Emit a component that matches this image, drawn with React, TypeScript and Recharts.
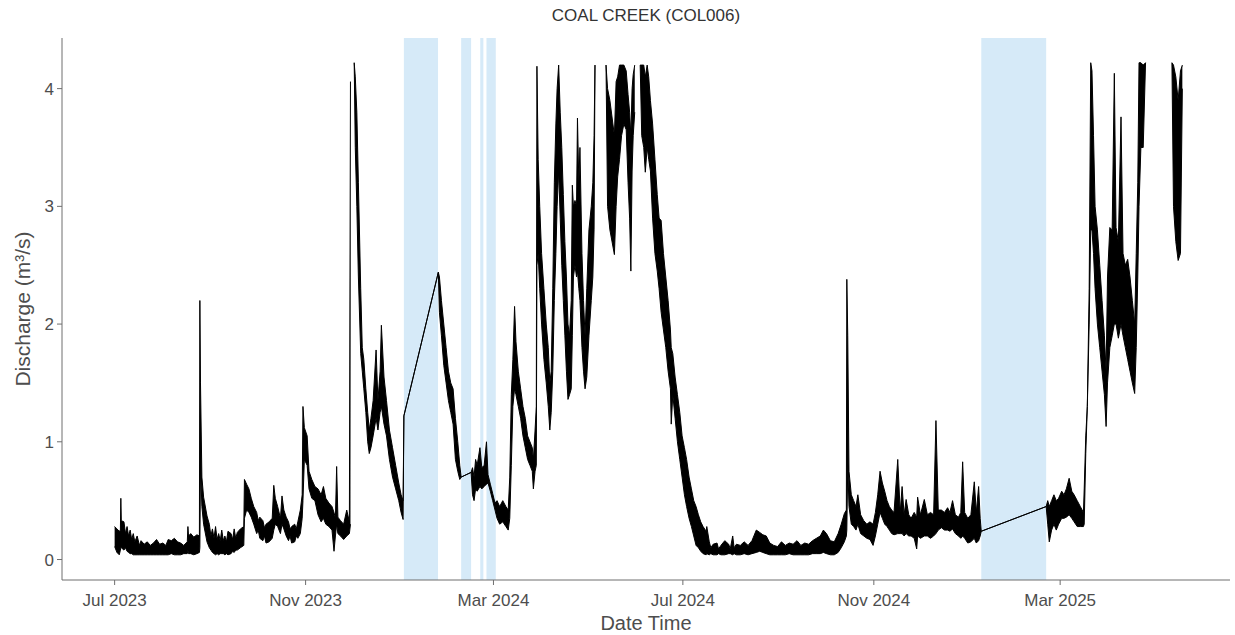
import { ComposedChart, Area, XAxis, YAxis, ReferenceArea } from 'recharts';

// [day since 1 Jul 2023, min, max] of discharge (m³/s) over each step;
// null marks values dropped above the rating limit
type Reading = [number, number | null, number | null];

const summer2023: Reading[] = [
  [0, 0.11, 0.28], [1.5, 0.06, 0.26], [3, 0.04, 0.24], [3.7, 0.08, 0.25], [4, 0.1, 0.52], [4.3, 0.1, 0.33],
  [6, 0.08, 0.32], [7, 0.1, 0.22], [8, 0.07, 0.28], [9, 0.06, 0.2], [10, 0.05, 0.25], [11, 0.05, 0.17],
  [12, 0.04, 0.22], [13, 0.04, 0.15], [14.5, 0.04, 0.2], [16, 0.04, 0.12], [17, 0.04, 0.16],
  [19, 0.04, 0.13], [21, 0.04, 0.15], [23, 0.04, 0.12], [25, 0.04, 0.14], [27, 0.04, 0.17], [29, 0.04, 0.13],
  [31, 0.04, 0.14], [33, 0.04, 0.12], [34.5, 0.04, 0.17], [36.5, 0.05, 0.16], [38.5, 0.04, 0.18], [40.5, 0.04, 0.15],
  [42.5, 0.04, 0.14], [44.5, 0.05, 0.12], [46.8, 0.05, 0.15], [47.2, 0.08, 0.28], [47.6, 0.05, 0.2], [49, 0.05, 0.22],
  [51, 0.04, 0.19], [53, 0.05, 0.21], [54.6, 0.06, 0.2],
];

const autumn2023: Reading[] = [
  [54.9, 0.1, 2.2], [55.3, 0.8, 1.5], [56.2, 0.45, 0.7], [57.3, 0.3, 0.53], [59.5, 0.15, 0.37], [61, 0.1, 0.3],
  [62, 0.08, 0.2], [63, 0.06, 0.26], [64, 0.05, 0.18], [65, 0.04, 0.28], [66, 0.05, 0.17], [67, 0.04, 0.22],
  [68, 0.05, 0.16], [69, 0.05, 0.25], [70, 0.05, 0.16], [71, 0.04, 0.2], [72, 0.05, 0.15], [73, 0.04, 0.24],
  [75, 0.05, 0.22], [76, 0.07, 0.17], [77, 0.06, 0.26], [78, 0.08, 0.18], [79, 0.08, 0.23], [81, 0.1, 0.26],
  [83.2, 0.12, 0.28], [83.6, 0.35, 0.68],
  [85, 0.42, 0.64], [86.5, 0.4, 0.6], [88, 0.36, 0.52], [89.6, 0.3, 0.45], [91.5, 0.22, 0.4], [92.5, 0.25, 0.33],
  [93.5, 0.18, 0.36], [95.5, 0.16, 0.33], [96.5, 0.2, 0.27], [97.5, 0.14, 0.3], [99.5, 0.15, 0.32], [101.5, 0.18, 0.35],
  [102.5, 0.25, 0.63], [103.5, 0.3, 0.52],
  [105, 0.28, 0.45], [106.8, 0.22, 0.35], [107.8, 0.3, 0.54], [109, 0.26, 0.42], [110.5, 0.2, 0.36], [112, 0.16, 0.32],
  [113, 0.2, 0.26], [114, 0.14, 0.28], [116, 0.15, 0.3], [117, 0.2, 0.26], [118, 0.18, 0.32], [119.6, 0.22, 0.42],
  [120.8, 0.35, 0.55], [121.3, 0.5, 1.3],
  [122.2, 0.85, 1.12], [124, 0.8, 1.05], [125.2, 0.6, 0.75], [127, 0.52, 0.68], [129, 0.5, 0.62], [131, 0.38, 0.6],
  [133, 0.32, 0.55], [134.5, 0.35, 0.62], [136, 0.3, 0.52], [138, 0.28, 0.48], [140, 0.25, 0.45], [141.3, 0.07, 0.4],
  [142.2, 0.2, 0.35], [143, 0.3, 0.79], [143.8, 0.22, 0.36], [145.5, 0.2, 0.33], [147.5, 0.17, 0.3], [149.5, 0.2, 0.42],
  [151.2, 0.22, 0.32], [151.9, 0.3, 4.06],
];

const winter2024: Reading[] = [
  [153, null, null],
  [154.3, 4.22, 4.22], [155, 3.5, 4.1], [156, 3.0, 3.8], [157, 2.4, 3.2], [158.5, 1.75, 2.3], [159.5, 1.6, 1.8],
  [160.5, 1.45, 1.7], [161.8, 1.25, 1.45], [163, 1.0, 1.25], [164, 0.9, 1.1], [165.1, 0.95, 1.2], [166.5, 1.05, 1.35],
  [168.4, 1.2, 1.78], [169.6, 1.1, 1.35], [171, 1.25, 1.6], [171.8, 1.3, 1.99], [173.5, 1.15, 1.55], [175.1, 1.05, 1.35],
  [177, 0.85, 1.1], [179, 0.7, 0.95], [181, 0.6, 0.8], [183, 0.5, 0.65], [184.5, 0.4, 0.55], [185.8, 0.34, 0.5],
  [186.3, 1.22, 1.22], [208.5, 2.44, 2.44], [209.2, 2.1, 2.4], [210.5, 1.9, 2.2], [212, 1.65, 2.0], [213.5, 1.5, 1.8],
  [215, 1.35, 1.6], [216.5, 1.25, 1.5], [218, 1.15, 1.45], [219.5, 0.85, 1.2], [221, 0.75, 1.0], [222.3, 0.68, 0.8],
  [223.2, 0.7, 0.7], [229.6, 0.74, 0.74], [230.5, 0.55, 0.78], [231.5, 0.5, 0.7], [232.5, 0.6, 0.85], [233.5, 0.58, 0.8],
  [235.3, 0.62, 0.95], [236.5, 0.6, 0.78], [238, 0.62, 0.8], [239.5, 0.64, 1.0], [240.5, 0.65, 0.72], [242, 0.58, 0.64],
  [243.5, 0.5, 0.56], [245, 0.42, 0.48],
];

const spring2024: Reading[] = [
  [246.3, 0.35, 0.5], [248, 0.3, 0.45], [250, 0.32, 0.5], [252, 0.28, 0.45], [253.5, 0.25, 0.42], [254.5, 0.35, 0.7],
  [255.5, 0.8, 1.4], [256.5, 1.3, 1.7], [257.6, 1.45, 2.15], [258.5, 1.4, 1.85], [260, 1.3, 1.6], [261.5, 1.2, 1.45],
  [263, 1.05, 1.3], [264.5, 0.95, 1.2], [266, 0.85, 1.05], [267.5, 0.8, 1.0], [269, 0.75, 0.95], [269.7, 0.6, 0.85],
  [270.8, 0.75, 1.1], [271.6, 0.8, 1.3], [272, 2.5, 4.19], [272.8, 2.6, 3.4], [273.8, 2.3, 3.0], [275, 2.0, 2.6],
  [276.5, 1.7, 2.3], [278, 1.5, 2.0], [279.3, 1.3, 1.8], [280.3, 1.1, 1.5], [281.2, 1.25, 1.6], [282.2, 1.6, 2.3],
  [283.2, 2.2, 3.2], [284.2, 2.6, 3.7], [285, 3.0, 4.0], [286, 3.3, 4.2], [287, 2.9, 3.8], [288, 2.5, 3.5],
  [289, 2.2, 3.1], [290, 1.9, 2.7], [291, 1.6, 2.4], [292, 1.36, 2.0], [293, 1.4, 1.9], [294.1, 1.45, 2.2],
  [294.8, 1.9, 3.18], [295.5, 2.4, 3.0], [296.5, 2.5, 3.05], [297.5, 2.4, 3.0], [298.1, 2.45, 3.75], [299, 2.3, 3.2],
  [299.7, 2.2, 3.5], [301, 1.8, 2.6], [302, 1.6, 2.2], [303, 1.45, 1.9], [304.1, 1.55, 2.3], [305.5, 1.9, 2.8],
  [307, 2.2, 3.0], [308, 2.4, 3.2], [308.8, 2.8, 3.6], [309.4, 4.2, 4.2], [311, null, null],
  [316.5, 4.2, 4.2], [317.5, 3.0, 4.0], [319, 2.8, 3.9], [321.9, 2.59, 3.6], [323, 3.0, 4.06], [324, 3.25, 4.1],
  [325.2, 3.4, 4.2], [326.5, 3.6, 4.2], [328, 3.7, 4.2], [329.5, 3.65, 4.15], [330.7, 3.2, 3.95], [331.7, 2.9, 3.8],
  [332.5, 2.45, 3.6], [333.3, 3.3, 4.0], [334, 3.6, 4.12], [335, 3.8, 4.2], [336.3, null, null],
  [338.5, 4.2, 4.2], [339.5, 3.6, 4.2], [340.8, 3.5, 4.2], [341.8, 3.29, 4.1], [343, 3.5, 4.2], [344, 3.4, 4.1],
  [345.1, 3.3, 3.9], [346.5, 2.9, 3.7], [348, 2.6, 3.4], [349.5, 2.45, 3.1], [350.7, 2.3, 2.9], [352, 2.1, 2.88],
  [353.5, 1.95, 2.6], [355, 1.8, 2.4], [356.5, 1.6, 2.2], [358, 1.45, 1.95], [358.5, 1.15, 1.8], [359.5, 1.4, 1.75],
  [361, 1.2, 1.55], [362.5, 1.0, 1.4], [364, 0.85, 1.25], [365.5, 0.7, 1.05], [367, 0.55, 0.95], [368.4, 0.45, 0.85],
  [370, 0.35, 0.7], [371.5, 0.28, 0.6], [373, 0.2, 0.5], [374.5, 0.12, 0.45], [376, 0.1, 0.38], [377.5, 0.07, 0.32],
  [379, 0.05, 0.28], [381, 0.04, 0.24], [381.4, 0.05, 0.28],
];

const lowflow2024: Reading[] = [
  [383, 0.04, 0.15], [384, 0.05, 0.1], [385.5, 0.04, 0.13], [388, 0.04, 0.14], [389, 0.05, 0.09], [390.5, 0.04, 0.12],
  [393, 0.04, 0.16], [395.5, 0.05, 0.13], [396.5, 0.05, 0.09], [398.1, 0.04, 0.2], [399, 0.05, 0.1], [400.5, 0.04, 0.13],
  [403, 0.04, 0.12], [405.5, 0.05, 0.15], [408, 0.04, 0.12], [410.5, 0.05, 0.16],
  [413.3, 0.06, 0.25], [415.5, 0.07, 0.23], [417.5, 0.06, 0.21], [419.7, 0.05, 0.2], [422, 0.04, 0.14], [424.5, 0.04, 0.12],
  [427, 0.04, 0.11], [429.5, 0.04, 0.15], [432, 0.04, 0.12], [434.5, 0.05, 0.14], [437, 0.04, 0.13], [439.5, 0.04, 0.16],
  [442, 0.04, 0.12], [444.5, 0.04, 0.14], [447, 0.04, 0.13], [449.5, 0.05, 0.16], [452, 0.05, 0.18], [454.5, 0.05, 0.2],
  [456.5, 0.06, 0.25], [458.5, 0.05, 0.22], [461, 0.04, 0.16], [463.5, 0.04, 0.15], [466, 0.06, 0.22], [468, 0.1, 0.3],
  [470, 0.15, 0.39], [471.3, 0.2, 0.42],
];

const winter2025: Reading[] = [
  [471.6, 0.25, 2.38], [472.2, 0.8, 1.9], [473, 0.45, 0.75], [474.5, 0.3, 0.55], [476, 0.28, 0.5], [477.5, 0.25, 0.45],
  [478.7, 0.3, 0.55], [480.5, 0.22, 0.38], [482.5, 0.2, 0.33], [484.5, 0.18, 0.3], [486.5, 0.17, 0.32], [488.5, 0.12, 0.3],
  [490, 0.2, 0.4], [491.5, 0.3, 0.55], [493, 0.4, 0.75], [494.5, 0.35, 0.65], [496, 0.3, 0.58], [497.5, 0.28, 0.5],
  [499, 0.25, 0.45], [500.5, 0.22, 0.42], [502, 0.21, 0.4], [504.4, 0.22, 0.85], [506, 0.22, 0.4], [507.2, 0.22, 0.62],
  [508.5, 0.2, 0.38], [509.8, 0.22, 0.51], [511.5, 0.2, 0.38], [513, 0.2, 0.35], [515, 0.18, 0.4], [516.6, 0.09, 0.36],
  [517.2, 0.2, 0.53], [519, 0.18, 0.38], [521.5, 0.2, 0.51], [523.5, 0.2, 0.38], [525.5, 0.18, 0.4], [527.5, 0.2, 0.38],
  [529, 0.22, 1.18], [530.5, 0.25, 0.42], [532.5, 0.27, 0.42], [534.5, 0.25, 0.4], [536.5, 0.25, 0.44], [538, 0.24, 0.4],
  [539.7, 0.26, 0.5], [541.5, 0.22, 0.38], [543.5, 0.2, 0.36], [545, 0.18, 0.4], [546.2, 0.2, 0.83], [547.5, 0.18, 0.4],
  [549.5, 0.14, 0.35], [551.5, 0.15, 0.38], [553.7, 0.18, 0.66], [555, 0.14, 0.4], [556.5, 0.16, 0.62], [557.5, 0.2, 0.35],
  [558.2, 0.24, 0.24], [600, 0.45, 0.45], [601, 0.3, 0.5], [602, 0.15, 0.45], [603.5, 0.25, 0.5], [605, 0.3, 0.55],
  [606.5, 0.25, 0.5], [608, 0.3, 0.52], [610, 0.35, 0.58], [611.5, 0.35, 0.55], [613, 0.36, 0.6], [614.8, 0.38, 0.69],
  [616.5, 0.35, 0.58], [618, 0.32, 0.55], [620, 0.28, 0.5], [622, 0.28, 0.45], [624, 0.28, 0.4],
];

const spring2025: Reading[] = [
  [624.5, 0.3, 0.6], [625.5, 0.9, 1.05], [626.5, 1.3, 1.3], [627.7, 2.0, 2.3], [628.7, 2.8, 4.22], [629.5, 2.8, 4.15],
  [630.5, 2.6, 3.6], [631.5, 2.3, 3.0], [633, 2.0, 2.8], [634.5, 1.8, 2.5], [636, 1.6, 2.2], [637.5, 1.4, 1.9],
  [638.6, 1.13, 1.6], [639.5, 1.5, 2.4], [641, 1.8, 2.82], [642.5, 1.9, 2.8], [643.9, 2.0, 4.13], [645, 2.0, 2.82],
  [646.5, 1.88, 2.7], [648.2, 2.0, 3.76], [649.5, 1.9, 2.6], [651, 1.8, 2.5], [652.5, 1.7, 2.55], [654, 1.6, 2.4],
  [655.5, 1.5, 2.2], [657, 1.41, 2.0], [658, 1.8, 2.6], [659, 2.4, 3.2], [659.8, 3.0, 4.22], [661, 3.5, 4.22],
  [662.5, 3.5, 4.2], [664, 4.22, 4.22], [670, null, null],
  [681, 4.22, 4.22], [682, 3.0, 4.2], [683.5, 2.7, 4.1], [685, 2.54, 3.9], [686.5, 2.6, 4.15], [687.7, 4.0, 4.2],
];

const tickDays = [0, 123, 244, 366, 489, 609];
const tickLabels = ['Jul 2023', 'Nov 2023', 'Mar 2024', 'Jul 2024', 'Nov 2024', 'Mar 2025'];
const dischargeTicks = [0, 1, 2, 3, 4];

// stretches without logger record, shaded light blue
const missingStart = [186.3, 223.2, 235.5, 239.5, 558.2];
const missingEnd = [208.3, 229.6, 237.5, 245.5, 600];

const readings = [...summer2023, ...autumn2023, ...winter2024, ...spring2024, ...lowflow2024, ...winter2025, ...spring2025];
const data = readings.map(([day, lo, hi]) => ({
  day,
  range: lo == null || hi == null ? null : [lo, hi],
}));

const FONT = '"Liberation Sans", Arial, Helvetica, sans-serif';
const TEXT = '#4d4d4d';
const AXIS = '#6e6e6e';

const W = 1235;
const H = 635;
const PLOT_LEFT = 62;
const PLOT_RIGHT = 1230;
const PLOT_TOP = 38;
const PLOT_BOTTOM = 580;

function xTitle() {
  return (
    <text x={(PLOT_LEFT + PLOT_RIGHT) / 2} y={630} textAnchor="middle" fill={TEXT} fontSize={20} fontFamily={FONT}>
      Date Time
    </text>
  );
}

function yTitle() {
  const cx = 22;
  const cy = (PLOT_TOP + PLOT_BOTTOM) / 2;
  return (
    <text x={cx} y={cy} transform={`rotate(-90 ${cx} ${cy})`} textAnchor="middle" dominantBaseline="central" fill={TEXT} fontSize={21} fontFamily={FONT}>
      Discharge (m³/s)
    </text>
  );
}

export default function App() {
  return (
    <div style={{ position: 'absolute', left: 0, top: 0, width: W, height: H, background: '#fff', fontFamily: FONT }}>
      <div style={{ position: 'absolute', top: 6, left: PLOT_LEFT, width: PLOT_RIGHT - PLOT_LEFT, textAlign: 'center', fontSize: 17, color: '#333', lineHeight: '20px' }}>
        COAL CREEK (COL006)
      </div>
      <ComposedChart
        width={W}
        height={H}
        data={data}
        margin={{ top: PLOT_TOP, right: W - PLOT_RIGHT, bottom: 0, left: 0 }}
      >
        {missingStart.map((start, i) => (
          <ReferenceArea key={i} x1={start} x2={missingEnd[i]} fill="#d6eaf8" fillOpacity={1} stroke="none" zIndex={-50} />
        ))}
        <XAxis
          type="number"
          dataKey="day"
          domain={[-33.9, 718.4]}
          allowDataOverflow
          ticks={tickDays}
          tickFormatter={(d: number) => tickLabels[tickDays.indexOf(d)]}
          height={H - PLOT_BOTTOM}
          tickSize={5}
          tickMargin={9}
          stroke={AXIS}
          tick={{ fill: TEXT, fontSize: 17 }}
          label={xTitle}
        />
        <YAxis
          type="number"
          domain={[-0.174, 4.43]}
          allowDataOverflow
          ticks={dischargeTicks}
          width={PLOT_LEFT}
          tickSize={5}
          tickMargin={3}
          stroke={AXIS}
          tick={{ fill: TEXT, fontSize: 17 }}
          label={yTitle}
        />
        <Area
          dataKey="range"
          type="linear"
          stroke="#000"
          strokeWidth={1}
          fill="#000"
          fillOpacity={1}
          dot={false}
          activeDot={false}
          connectNulls={false}
          isAnimationActive={false}
        />
      </ComposedChart>
    </div>
  );
}
